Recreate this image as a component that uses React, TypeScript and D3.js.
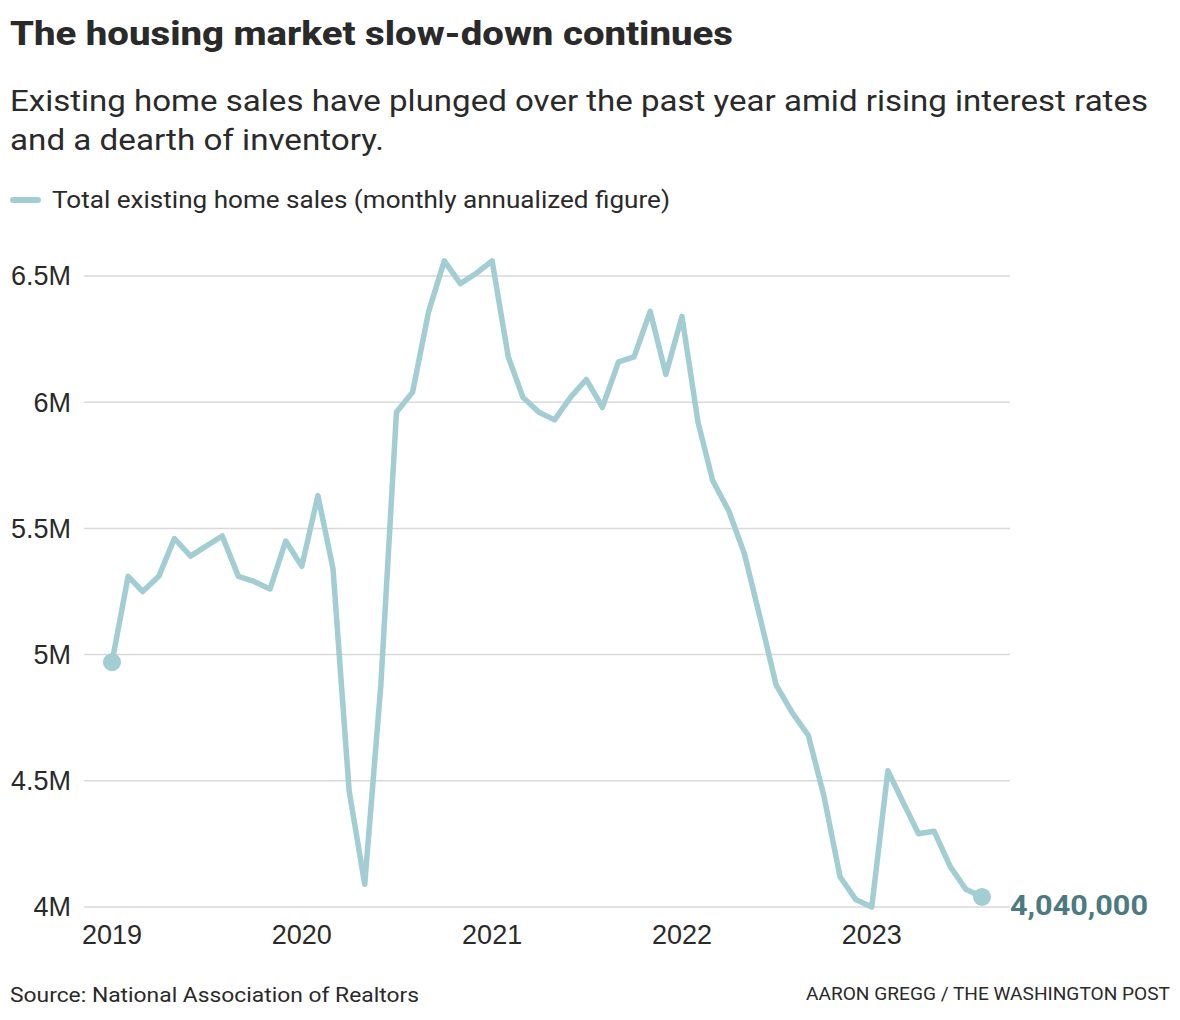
import React from "react";
import * as d3 from "d3";

const startMonth = new Date(2019, 0, 1);
const endMonth = new Date(2023, 7, 1);

// Total existing home sales, millions (seasonally adjusted annual rate), Jan 2019 – Aug 2023
const sales2019 = [4.97, 5.31, 5.25, 5.31, 5.46, 5.39, 5.43, 5.47, 5.31, 5.29, 5.26, 5.45];
const sales2020 = [5.35, 5.63, 5.34, 4.46, 4.09, 4.88, 5.96, 6.04, 6.36, 6.56, 6.47, 6.51];
const sales2021 = [6.56, 6.18, 6.02, 5.96, 5.93, 6.02, 6.09, 5.98, 6.16, 6.18, 6.36, 6.11];
const sales2022 = [6.34, 5.92, 5.69, 5.57, 5.40, 5.14, 4.88, 4.77, 4.68, 4.44, 4.12, 4.03];
const sales2023 = [4.00, 4.54, 4.42, 4.29, 4.30, 4.16, 4.07, 4.04];

const yTicks = [4, 4.5, 5, 5.5, 6, 6.5];
const yTickLabels = ["4M", "4.5M", "5M", "5.5M", "6M", "6.5M"];
const xTickYears = [2019, 2020, 2021, 2022, 2023];

const title = "The housing market slow-down continues";
const subtitleLines = [
  "Existing home sales have plunged over the past year amid rising interest rates",
  "and a dearth of inventory.",
];
const legendLabel = "Total existing home sales (monthly annualized figure)";
const endLabel = "4,040,000";
const sourceText = "Source: National Association of Realtors";
const creditText = "AARON GREGG / THE WASHINGTON POST";

const LINE = "#a1cdd3";
const LABEL = "#4d7a80";
const TEXT = "#2a2a2a";
const FONT = "Roboto, 'Noto Sans', sans-serif";
const AXIS_FONT = "'Liberation Sans', Arial, sans-serif";

export default function App() {
  const W = 1180;
  const H = 1020;
  const values = [...sales2019, ...sales2020, ...sales2021, ...sales2022, ...sales2023];
  const dates = d3.timeMonth.range(startMonth, d3.timeMonth.offset(endMonth, 1));
  const data = dates.map((d, i) => ({ date: d, value: values[i] }));

  const x = d3.scaleTime().domain([startMonth, endMonth]).range([112, 982]);
  const y = d3.scaleLinear().domain([4, 6.5]).range([907, 276]);

  const line = d3
    .line<{ date: Date; value: number }>()
    .x((d) => x(d.date))
    .y((d) => y(d.value));

  const first = data[0];
  const last = data[data.length - 1];

  return (
    <svg
      width={W}
      height={H}
      viewBox={`0 0 ${W} ${H}`}
      style={{ position: "absolute", left: 0, top: 0, background: "#fff" }}
      fontFamily={FONT}
    >
      <rect x={0} y={0} width={W} height={H} fill="#fff" />
      <text x={10} y={45} fontSize={34} fontWeight={800} fill={TEXT} textLength={723} lengthAdjust="spacingAndGlyphs">
        {title}
      </text>
      {subtitleLines.map((s, i) => (
        <text key={i} x={10} y={111 + i * 39} fontSize={30} fill={TEXT}
          textLength={i === 0 ? 1138 : 374} lengthAdjust="spacingAndGlyphs">
          {s}
        </text>
      ))}
      <line x1={13} x2={38} y1={200} y2={200} stroke={LINE} strokeWidth={6} strokeLinecap="round" />
      <text x={52} y={208} fontSize={23} fill={TEXT} textLength={618} lengthAdjust="spacingAndGlyphs">
        {legendLabel}
      </text>

      {yTicks.map((t, i) => (
        <g key={t}>
          <line x1={84} x2={1010} y1={y(t)} y2={y(t)} stroke="#d9d9d9" strokeWidth={1.5} />
          <text x={71} y={y(t)} dy="0.35em" textAnchor="end" fontSize={27} fill={TEXT} fontFamily={AXIS_FONT}>
            {yTickLabels[i]}
          </text>
        </g>
      ))}

      {xTickYears.map((yr) => (
        <text key={yr} x={x(new Date(yr, 0, 1))} y={944} textAnchor="middle" fontSize={27} fill={TEXT} fontFamily={AXIS_FONT}>
          {yr}
        </text>
      ))}

      <path d={line(data) || ""} fill="none" stroke={LINE} strokeWidth={5.5} strokeLinejoin="round" strokeLinecap="round" />
      <circle cx={x(first.date)} cy={y(first.value)} r={9} fill={LINE} />
      <circle cx={x(last.date)} cy={y(last.value)} r={9} fill={LINE} />
      <text x={1010} y={915} fontSize={28} fontWeight={700} fill={LABEL} textLength={138} lengthAdjust="spacingAndGlyphs">
        {endLabel}
      </text>

      <text x={10} y={1002} fontSize={21} fill={TEXT} textLength={409} lengthAdjust="spacingAndGlyphs">
        {sourceText}
      </text>
      <text x={1170} y={1000} fontSize={18} fill={TEXT} textAnchor="end" textLength={364} lengthAdjust="spacingAndGlyphs">
        {creditText}
      </text>
    </svg>
  );
}
